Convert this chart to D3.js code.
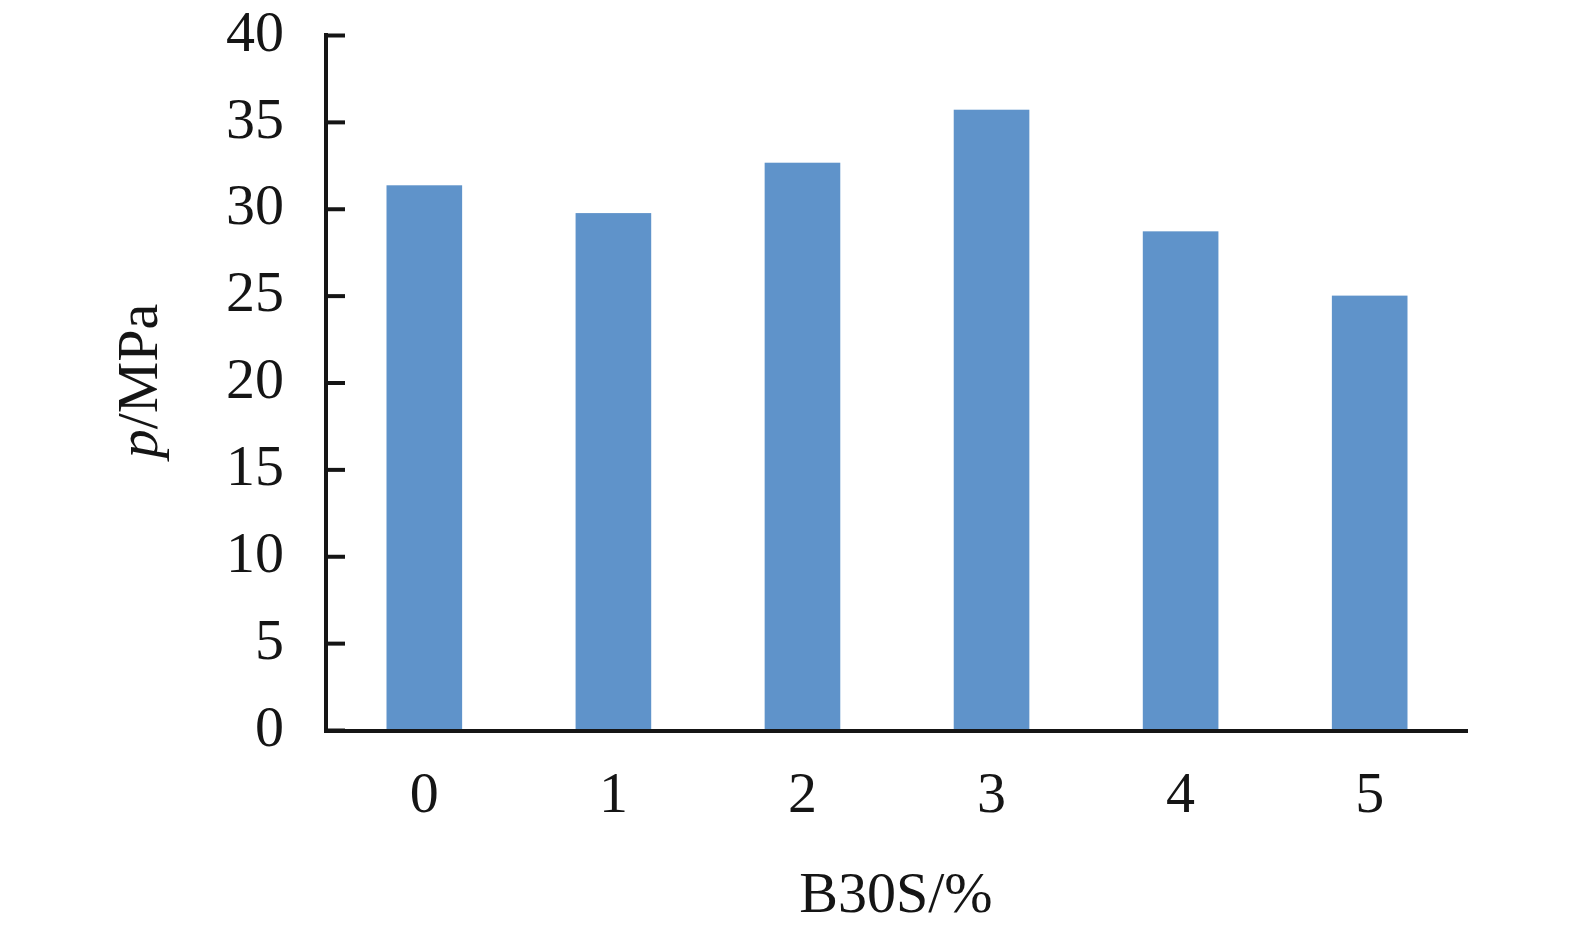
<!DOCTYPE html>
<html><head><meta charset="utf-8">
<script src="https://cdn.jsdelivr.net/npm/d3@7"></script>
<style>body{margin:0;background:#fff}svg{display:block}</style>
</head><body>
<script>
const categories = ["0","1","2","3","4","5"];
const values = [31.35, 29.75, 32.65, 35.7, 28.7, 25.0];
const yTicks = [0,5,10,15,20,25,30,35,40];

(function(){
const W = 1575, H = 931;
const svg = d3.select("body").append("svg").attr("width", W).attr("height", H);
const mLeft = 326, mRight = 1468, mTop = 35, mBottom = 730;
const font = "'Liberation Serif','Times New Roman',serif";
const fs = 58;

const x = d3.scaleBand().domain(categories).range([mLeft, mRight]).paddingInner(0.6).paddingOuter(0.32);
const y = d3.scaleLinear().domain([0, 40]).range([mBottom, mTop]);

svg.selectAll("rect.bar").data(values).enter().append("rect")
  .attr("class","bar")
  .attr("x", (d,i) => x(categories[i]))
  .attr("width", x.bandwidth())
  .attr("y", d => y(d))
  .attr("height", d => y(0) - y(d))
  .attr("fill", "#5f93ca");

const yAxis = d3.axisRight(y).tickValues(yTicks).tickSize(19).tickFormat("");
const gy = svg.append("g").attr("transform", `translate(${mLeft},0)`).call(yAxis);
gy.select(".domain").attr("stroke","#151515").attr("stroke-width",4).attr("d", `M0,${mTop-2}V${mBottom+2}`);
gy.selectAll(".tick line").attr("stroke","#151515").attr("stroke-width",4);

yTicks.forEach(t => {
  svg.append("text").attr("x", 284).attr("y", y(t)).attr("dy","0.27em")
    .attr("text-anchor","end").attr("font-family",font).attr("font-size",fs).attr("fill","#151515").text(t);
});

svg.append("line").attr("x1", mLeft-2).attr("x2", mRight).attr("y1", mBottom+1).attr("y2", mBottom+1)
  .attr("stroke","#151515").attr("stroke-width",4);
categories.forEach(c => {
  svg.append("text").attr("x", x(c) + x.bandwidth()/2).attr("y", 795).attr("dy","0.3em")
    .attr("text-anchor","middle").attr("font-family",font).attr("font-size",fs).attr("fill","#151515").text(c);
});

svg.append("text").attr("x", 896).attr("y", 895).attr("dy","0.3em")
  .attr("text-anchor","middle").attr("font-family",font).attr("font-size",fs).attr("fill","#151515").text("B30S/%");

const yl = svg.append("text").attr("transform","translate(140,381) rotate(-90)").attr("dy","0.3em")
  .attr("text-anchor","middle").attr("font-family",font).attr("font-size",fs).attr("fill","#151515");
yl.append("tspan").attr("font-style","italic").text("p");
yl.append("tspan").text("/MPa");
})();
</script>
</body></html>
